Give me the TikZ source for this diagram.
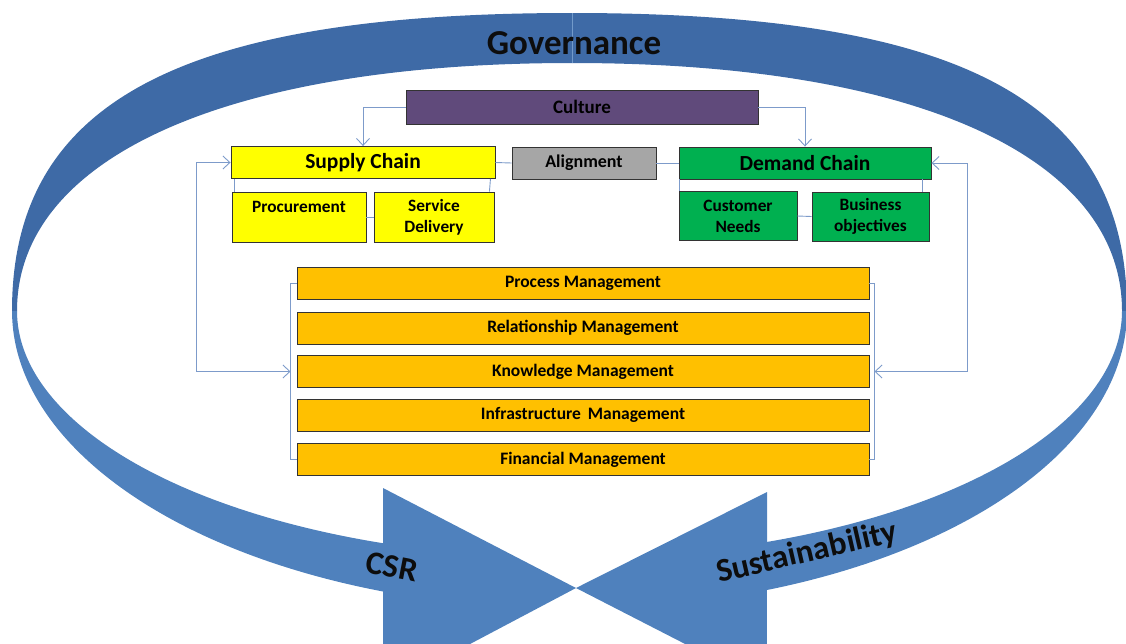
\documentclass[tikz,border=0pt]{standalone}
\usepackage{fontspec}
\setmainfont{Carlito}
\usetikzlibrary{arrows.meta}
\definecolor{bandlight}{RGB}{79,129,189}
\definecolor{banddark}{RGB}{62,106,166}
\definecolor{culpurple}{RGB}{96,74,123}
\definecolor{scyellow}{RGB}{255,255,0}
\definecolor{algray}{RGB}{166,166,166}
\definecolor{dcgreen}{RGB}{0,176,80}
\definecolor{mgorange}{RGB}{255,192,0}
\definecolor{connc}{RGB}{125,155,202}
\begin{document}
\begin{tikzpicture}[x=1pt,y=-1pt,
  box/.style={draw=black!80, line width=0.9pt, inner sep=0pt, align=center, text=black},
  headbox/.style={box, minimum height=32pt, font=\bfseries\fontsize{21.5}{23}\selectfont},
  subbox/.style={box, minimum height=50pt, font=\bfseries\fontsize{17.3}{21}\selectfont},
  mgbox/.style={box, fill=mgorange, minimum width=572pt, minimum height=32pt, font=\bfseries\fontsize{17.5}{19}\selectfont},
  conn/.style={draw=connc, line width=0.9pt},
  tipped/.style={-{Straight Barb[length=7pt,width=13pt]}},
  bandtext/.style={font=\bfseries\fontsize{33}{33}\selectfont, text=black!95, inner sep=0pt}
]
\useasboundingbox (0,0) rectangle (1126,643);
\begin{scope}
\clip (0,0) rectangle (1126,643);
% upper (dark) parts of the ring
\fill[banddark] (572,13) .. controls (180,13) and (12,102) .. (12,311)
  -- (17,311) .. controls (17,157) and (228,63) .. (572,63) -- cycle;
\fill[banddark] (572,13) .. controls (964,13) and (1127,102) .. (1127,311)
  -- (1122,311) .. controls (1122,157) and (916,63) .. (572,63) -- cycle;
% CSR arrow (lower left)
\fill[bandlight] plot[domain=180:250.28,samples=80,variable=\t] ({572+560*cos(\t)},{311-298*sin(\t)})
  -- (383,690) -- (576,588) -- (383,488)
  -- plot[domain=250.09:180,samples=80,variable=\t] ({572+555*cos(\t)},{311-247*sin(\t)}) -- cycle;
% Sustainability arrow (lower right)
\fill[bandlight] plot[domain=0:-69.45,samples=80,variable=\t] ({572+555*cos(\t)},{311-298*sin(\t)})
  -- (767,686) -- (576,588) -- (767,492)
  -- plot[domain=-69.23:0,samples=80,variable=\t] ({572+550*cos(\t)},{311-247*sin(\t)}) -- cycle;
\draw[bandlight!80!white, line width=0.8pt] (572,13) -- (572,63);
\end{scope}

\node[bandtext, font=\bfseries\fontsize{35}{35}\selectfont] (gov) at (574,43) {Governance};
\node[bandtext, rotate=-11] (csr) at (392,567) {CSR};
\node[bandtext, rotate=13] (sus) at (807,553) {Sustainability};

% top row
\node[box, fill=culpurple, minimum width=352pt, minimum height=34pt, font=\bfseries\fontsize{19}{21}\selectfont] (cul) at (582,107) {Culture};
\node[headbox, fill=scyellow, minimum width=264pt] (sc) at (363,162.5) {Supply Chain};
\node[headbox, fill=algray, minimum width=144pt, font=\bfseries\fontsize{18}{20}\selectfont] (al) at (584,163) {Alignment};
\node[headbox, fill=dcgreen, minimum width=252pt] (dc) at (805,163) {Demand Chain};

% sub boxes
\node[subbox, fill=scyellow, minimum width=134pt] (proc) at (299,217) {Procurement\\\mbox{}};
\node[subbox, fill=scyellow, minimum width=120pt] (sd) at (434,217) {Service\\Delivery};
\node[subbox, fill=dcgreen, minimum width=118pt, minimum height=49pt] (cn) at (738,216) {Customer\\Needs};
\node[subbox, fill=dcgreen, minimum width=117pt, minimum height=49pt] (bo) at (870.5,216.5) {Business\\objectives};

% management boxes
\node[mgbox] (pm) at (583,283) {Process Management};
\node[mgbox] (rm) at (583,328) {Relationship Management};
\node[mgbox] (km) at (583,371.5) {Knowledge Management};
\node[mgbox] (im) at (583,415) {Infrastructure\, Management};
\node[mgbox] (fm) at (583,459.5) {Financial Management};

% brackets
\draw[conn] (pm.west) -- ++(-6,0) coordinate (lbtop) |- (fm.west);
\draw[conn] (pm.east) -- ++(5,0) coordinate (rbtop) |- (fm.east);
\coordinate (lbr) at (lbtop |- km.west);
\coordinate (rbr) at (rbtop |- km.east);

% small links
\draw[conn] ([xshift=4pt]sc.south west) -- ([xshift=3pt]proc.north west);
\draw[conn] ([xshift=-5pt]sc.south east) -- ([xshift=-5pt]sd.north east);
\draw[conn] (proc.east) -- (sd.west);
\draw[conn] ([xshift=1pt]dc.south west) -- ([xshift=1pt]cn.north west);
\draw[conn] ([xshift=-9pt]dc.south east) -- ([xshift=-7pt]bo.north east);
\draw[conn] (cn.east) -- (bo.west);
\draw[conn] (sc.east) -- (al.west);
\draw[conn] (al.east) -- (dc.west);

% culture arrows
\draw[conn, tipped] (cul.west) -| (sc.north);
\draw[conn, tipped] (cul.east) -| (dc.north);

% feedback loops
\draw[conn, {Straight Barb[length=7pt,width=13pt]}-{Straight Barb[length=7pt,width=13pt]}] (sc.west) -- ++(-34,0) |- (lbr);
\draw[conn, {Straight Barb[length=7pt,width=13pt]}-{Straight Barb[length=7pt,width=13pt]}] (dc.east) -- ++(36,0) |- (rbr);
\end{tikzpicture}
\end{document}
